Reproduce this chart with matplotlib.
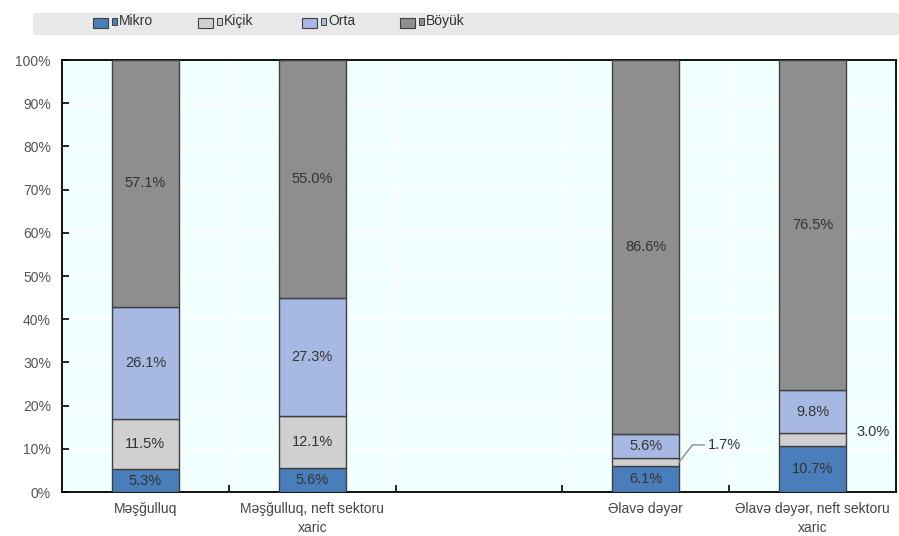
import matplotlib
matplotlib.use("Agg")
import matplotlib.pyplot as plt
from matplotlib.patches import Rectangle
import numpy as np

# --- data ---
categories = ["Məşğulluq", "Məşğulluq, neft sektoru\nxaric", "",
              "Əlavə dəyər", "Əlavə dəyər, neft sektoru\nxaric"]
series_names = ["Mikro", "Kiçik", "Orta", "Böyük"]
mikro = [5.3, 5.6, None, 6.1, 10.7]
kicik = [11.5, 12.1, None, 1.7, 3.0]
orta = [26.1, 27.3, None, 5.6, 9.8]
boyuk = [57.1, 55.0, None, 86.6, 76.5]
yticks = [0, 10, 20, 30, 40, 50, 60, 70, 80, 90, 100]

colors = ["#4A7EBB", "#D0D0D0", "#A7B9E3", "#8E8E8E"]
plt.rcParams["font.family"] = ["Liberation Sans", "DejaVu Sans"]

fig = plt.figure(figsize=(8.99, 5.36), dpi=100)
ax = fig.add_axes([62 / 899, 1 - 492 / 536, 834 / 899, 432 / 536])
ax.set_facecolor("#F2FFFF")

series = [mikro, kicik, orta, boyuk]
x = np.arange(len(categories))
bottom = np.zeros(len(categories))
for name, vals, col in zip(series_names, series, colors):
    idx = [i for i, v in enumerate(vals) if v is not None]
    v = np.array([vals[i] for i in idx])
    ax.bar(x[idx], v, 0.4, bottom=bottom[idx], color=col, edgecolor="#404040",
           linewidth=1, zorder=3)
    for i, val in zip(idx, v):
        # small segments get labels outside the bar
        if val >= 4:
            ax.text(i, bottom[i] + val / 2, f"{val:.1f}%", ha="center", va="center",
                    fontsize=10.5, color="#333333", zorder=4)
    bottom[idx] += v

# outside labels for the thin Kiçik segments
i = 3
ymid = mikro[i] + kicik[i] / 2
ax.plot([i + 0.2, i + 0.28, i + 0.35], [ymid, 10.9, 10.9], color="#8C8C8C", lw=1, zorder=4)
ax.text(i + 0.37, 10.9, f"{kicik[i]:.1f}%", ha="left", va="center", fontsize=10.5, color="#333333")
i = 4
ax.text(i + 0.265, 13.8, f"{kicik[i]:.1f}%", ha="left", va="center", fontsize=10.5, color="#333333")

ax.set_xlim(-0.5, 4.5)
ax.set_ylim(0, 100)
ax.set_yticks(yticks)
ax.set_yticklabels([f"{t}%" for t in yticks], fontsize=10, color="#555555")
ax.set_xticks(x)
ax.set_xticklabels(categories, fontsize=10, color="#444444", linespacing=1.45)
ax.set_xticks(np.arange(0.5, 4.5, 1), minor=True)
ax.tick_params(axis="x", which="major", length=0, pad=7)
ax.tick_params(axis="x", which="minor", direction="in", length=5, width=1.2, color="black")
ax.tick_params(axis="y", direction="in", length=5, width=1.2, color="black", pad=8)

ax.grid(axis="y", color="white", lw=1.2, zorder=1)
ax.grid(axis="x", which="minor", color="white", lw=1.2, zorder=1)
for s in ax.spines.values():
    s.set_color("black")
    s.set_linewidth(1.3)

# legend band
fw, fh = 899, 536
fig.patches.append(Rectangle((33 / fw, 1 - 35 / fh), 866 / fw, 22 / fh,
                             transform=fig.transFigure, facecolor="#E8E8E8", edgecolor="none"))
leg_x = [93, 198, 302, 400]
for lx, name, col in zip(leg_x, series_names, colors):
    fig.patches.append(Rectangle((lx / fw, 1 - 28 / fh), 15 / fw, 10 / fh, transform=fig.transFigure,
                                 facecolor=col, edgecolor="#404040", lw=0.8))
    fig.patches.append(Rectangle(((lx + 19) / fw, 1 - 25 / fh), 5 / fw, 7 / fh, transform=fig.transFigure,
                                 facecolor=col, edgecolor="#404040", lw=0.7))
    fig.text((lx + 26) / fw, 1 - 21 / fh, name, ha="left", va="center", fontsize=10, color="#333333")

fig.savefig("out.png", dpi=100)
